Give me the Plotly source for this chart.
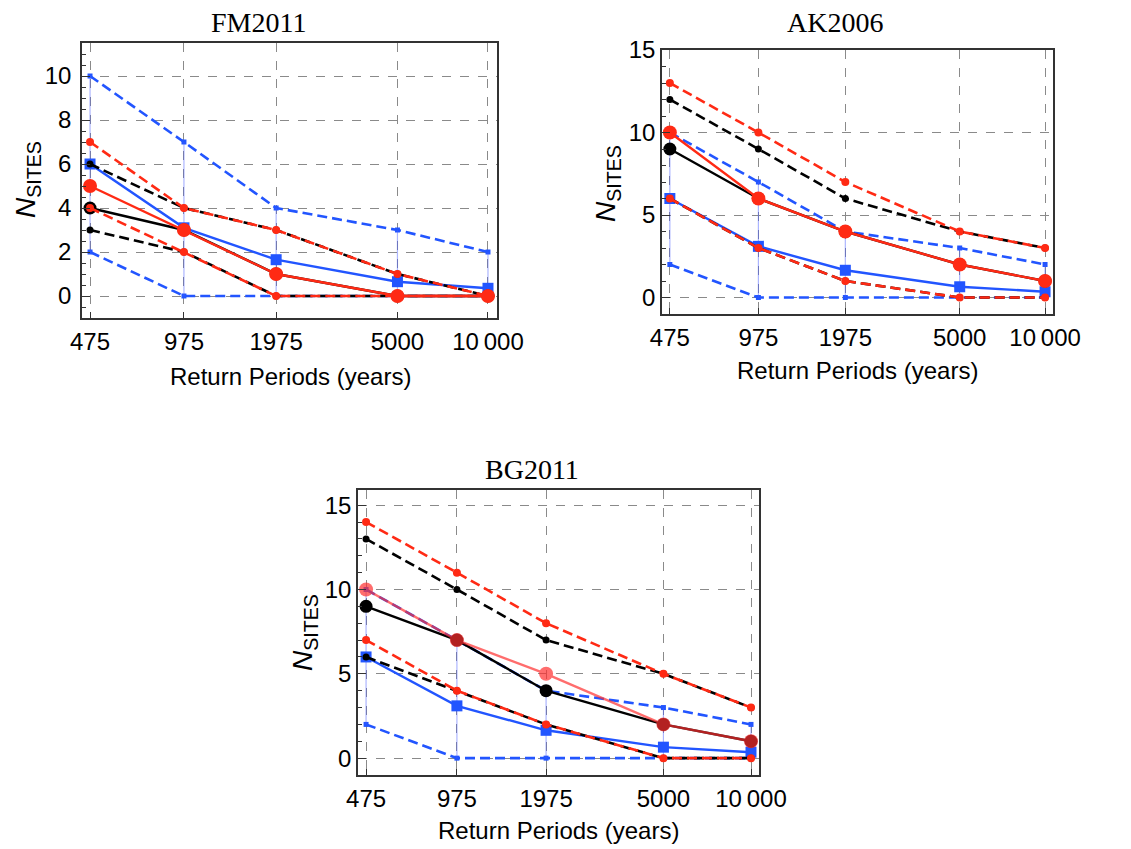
import plotly.graph_objects as go

# ---------------- data ----------------
periods = [475, 975, 1975, 5000, 10000]
tick_text = ["475", "975", "1975", "5000", "10\u2009000"]

model_mean = [6, 3.1, 1.65, 0.65, 0.35]
model_upper = [10, 7, 4, 3, 2]
model_lower = [2, 0, 0, 0, 0]

fm_black = [4, 3, 1, 0, 0]
fm_black_up = [6, 4, 3, 1, 0]
fm_black_lo = [3, 2, 0, 0, 0]
fm_red = [5, 3, 1, 0, 0]
fm_red_up = [7, 4, 3, 1, 0]
fm_red_lo = [4, 2, 0, 0, 0]

ak_black = [9, 6, 4, 2, 1]
ak_black_up = [12, 9, 6, 4, 3]
ak_black_lo = [6, 3, 1, 0, 0]
ak_red = [10, 6, 4, 2, 1]
ak_red_up = [13, 10, 7, 4, 3]
ak_red_lo = [6, 3, 1, 0, 0]

bg_black = [9, 7, 4, 2, 1]
bg_black_up = [13, 10, 7, 5, 3]
bg_black_lo = [6, 4, 2, 0, 0]
bg_red = [10, 7, 5, 2, 1]
bg_red_up = [14, 11, 8, 5, 3]
bg_red_lo = [7, 4, 2, 0, 0]

panel_titles = ["FM2011", "AK2006", "BG2011"]

# ---------------- styling ----------------
OFF = 8  # page body margin
W, H = 1131 - OFF, 849 - OFF
BLUE = "#2255ff"
RED = "#ff2a14"
BLACK = "#000000"
DASH = "10px,5px"


def px_x(v):
    return (v - OFF) / W


def px_y(v):
    return 1 - (v - OFF) / H


fig = go.Figure()


def add_panel(n, black, black_up, black_lo, red, red_up, red_lo, red_opacity=1.0, red_color=RED):
    xa = "x" if n == 1 else f"x{n}"
    ya = "y" if n == 1 else f"y{n}"
    common = dict(x=periods, xaxis=xa, yaxis=ya, showlegend=False, mode="lines+markers")
    for arr in (model_upper, model_lower):
        fig.add_trace(go.Scatter(y=arr, line=dict(color=BLUE, width=2.6, dash=DASH),
                                 marker=dict(symbol="square", size=5, color=BLUE), **common))
    fig.add_trace(go.Scatter(
        y=model_mean,
        line=dict(color=BLUE, width=2.4),
        marker=dict(symbol="square", size=11, color=BLUE),
        error_y=dict(type="data", symmetric=False,
                     array=[u - m for u, m in zip(model_upper, model_mean)],
                     arrayminus=[m - l for m, l in zip(model_mean, model_lower)],
                     color="rgba(70,90,255,0.45)", thickness=1.2, width=0),
        **common))
    for arr in (black_up, black_lo):
        fig.add_trace(go.Scatter(y=arr, line=dict(color=BLACK, width=2.6, dash=DASH),
                                 marker=dict(symbol="circle", size=7, color=BLACK), **common))
    fig.add_trace(go.Scatter(y=black, line=dict(color=BLACK, width=2.4),
                             marker=dict(symbol="circle", size=13, color=BLACK), **common))
    for arr in (red_up, red_lo):
        fig.add_trace(go.Scatter(y=arr, line=dict(color=RED, width=2.6, dash=DASH),
                                 marker=dict(symbol="circle", size=8, color=RED), **common))
    fig.add_trace(go.Scatter(y=red, line=dict(color=red_color, width=2.4),
                             marker=dict(symbol="circle", size=14, color=red_color),
                             opacity=red_opacity, **common))


add_panel(1, fm_black, fm_black_up, fm_black_lo, fm_red, fm_red_up, fm_red_lo)
add_panel(2, ak_black, ak_black_up, ak_black_lo, ak_red, ak_red_up, ak_red_lo)
add_panel(3, bg_black, bg_black_up, bg_black_lo, bg_red, bg_red_up, bg_red_lo,
          red_opacity=0.7, red_color="#ff3030")

tick_font = dict(family="Liberation Sans, Arial, sans-serif", size=24, color="black")


def xaxis(dom, rng):
    return dict(domain=dom, type="log", range=rng, tickvals=periods, ticktext=tick_text,
                tickfont=tick_font, showgrid=True, gridcolor="#8a8a8a", griddash="dash",
                gridwidth=1, ticks="inside", ticklen=6, tickcolor="#333",
                showline=True, linecolor="#333", linewidth=1.5, mirror=True,
                zeroline=False, ticklabelstandoff=1, automargin=False)


def yaxis(dom, rng, dtick, minor, standoff):
    return dict(domain=dom, range=rng, dtick=dtick, tick0=0, tickfont=tick_font,
                showgrid=True, gridcolor="#8a8a8a", griddash="dash", gridwidth=1,
                ticks="inside", ticklen=8, tickcolor="#333",
                minor=dict(dtick=minor, tick0=0, ticks="inside", ticklen=4, tickcolor="#333", showgrid=False),
                showline=True, linecolor="#333", linewidth=1.5, mirror=True,
                zeroline=False, ticklabelstandoff=standoff, automargin=False)


fig.update_layout(
    width=W, height=H, margin=dict(l=0, r=0, t=0, b=0, pad=0), autosize=False,
    paper_bgcolor="white", plot_bgcolor="white",
    xaxis=xaxis([px_x(82), px_x(497)], [2.650, 4.030]),
    yaxis=yaxis([px_y(318), px_y(43)], [-1, 11.5], 2, 0.5, 4),
    xaxis2=xaxis([px_x(662), px_x(1053)], [2.649, 4.028]),
    yaxis2=yaxis([px_y(314), px_y(50)], [-1, 15], 5, 1, 0),
    xaxis3=xaxis([px_x(358), px_x(759)], [2.649, 4.0275]),
    yaxis3=yaxis([px_y(775), px_y(490)], [-1, 15.9], 5, 1, 0),
)
fig.layout.xaxis2.anchor = "y2"
fig.layout.yaxis2.anchor = "x2"
fig.layout.xaxis3.anchor = "y3"
fig.layout.yaxis3.anchor = "x3"

title_font = dict(family="Liberation Serif, Times New Roman, serif", size=28, color="black")
label_font = dict(family="Liberation Sans, Arial, sans-serif", size=24, color="black")
ylab_font = dict(family="Liberation Sans, Arial, sans-serif", size=28, color="black")

title_pos = [(258, 23), (835, 23), (532, 469)]
xlab_pos = [(290, 376), (857, 370), (558, 830)]
ylab_pos = [(27, 180), (607, 184), (304, 633)]

for t, (tx, ty), (xx, xy), (yx, yy) in zip(panel_titles, title_pos, xlab_pos, ylab_pos):
    fig.add_annotation(text=t, x=px_x(tx), y=px_y(ty), xref="paper", yref="paper",
                       showarrow=False, font=title_font, xanchor="center", yanchor="middle")
    fig.add_annotation(text="Return Periods (years)", x=px_x(xx), y=px_y(xy), xref="paper", yref="paper",
                       showarrow=False, font=label_font, xanchor="center", yanchor="middle")
    fig.add_annotation(text="<i>N</i><sub>SITES</sub>", x=px_x(yx), y=px_y(yy), xref="paper", yref="paper",
                       showarrow=False, font=ylab_font, textangle=-90, xanchor="center", yanchor="middle")

fig.write_html("out.html")
